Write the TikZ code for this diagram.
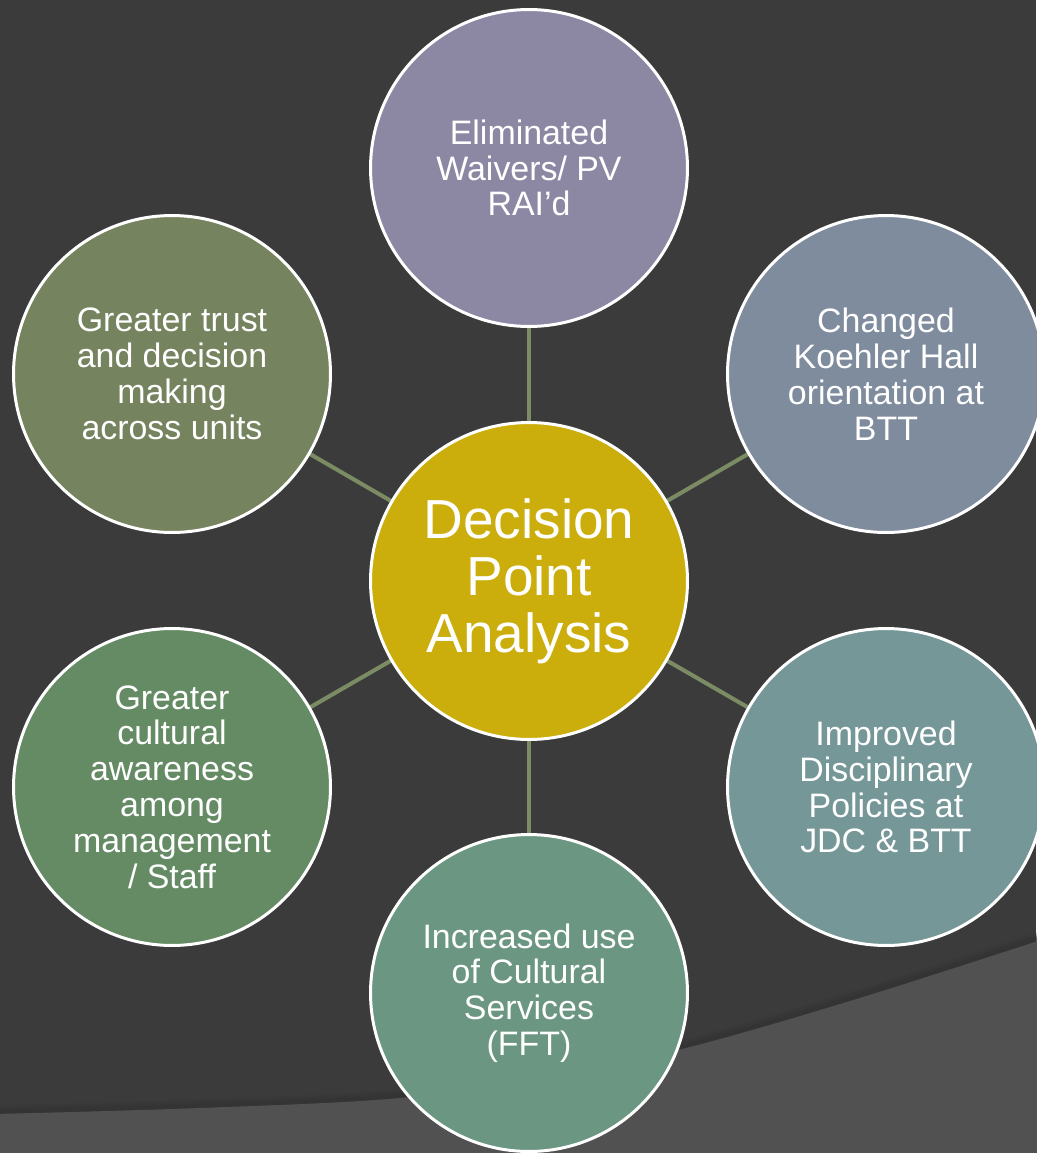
\documentclass[tikz,border=0pt]{standalone}
\usepackage{fontspec}
\setmainfont{Liberation Sans}
\definecolor{bgdark}{HTML}{3B3B3B}
\definecolor{bgswoosh}{HTML}{515151}
\definecolor{shadowc}{HTML}{333333}
\definecolor{linkc}{HTML}{7B8C64}
\definecolor{ccenter}{HTML}{CBAD0C}
\definecolor{ctop}{HTML}{8C88A4}
\definecolor{cur}{HTML}{7F8C9E}
\definecolor{clr}{HTML}{769797}
\definecolor{cbot}{HTML}{6B9682}
\definecolor{cll}{HTML}{658B65}
\definecolor{cul}{HTML}{75835F}
\tikzset{
  bubble/.style={circle, draw=white, line width=1.7pt, minimum size=6.34cm, inner sep=0pt,
    text=white, align=center, font=\fontsize{19.3}{20.4}\selectfont},
  hub/.style={bubble, font=\fontsize{31.3}{32.4}\selectfont},
  link/.style={draw=linkc, line width=2.3pt}
}
\begin{document}
\begin{tikzpicture}[x=0.02cm,y=-0.02cm]
\useasboundingbox (0,0) rectangle (1036,1153);
\fill[bgdark] (0,0) rectangle (1036,1153);
% swoosh shadow
\foreach \d/\o in {14/0.15,10/0.25,6/0.35,3/0.45}{
  \draw[shadowc, line width=\d*0.569pt, opacity=\o]
    plot[smooth, tension=0.6] coordinates {(-5,1112) (200,1106) (400,1096) (550,1074) (682,1047) (850,999) (1041,938)};
}
\fill[bgswoosh] plot[smooth, tension=0.6] coordinates {(-5,1114) (200,1108) (400,1098) (550,1076) (682,1049) (850,1001) (1041,940)}
  -- (1041,1158) -- (-5,1158) -- cycle;

\coordinate (cpos) at (529,581);
% connectors drawn first (behind)
\path (529,581) coordinate (c0);
\path (529,168) coordinate (p1);
\path (886,374) coordinate (p2);
\path (886,787) coordinate (p3);
\path (529,993) coordinate (p4);
\path (172,787) coordinate (p5);
\path (172,374) coordinate (p6);
\foreach \p in {p1,p2,p3,p4,p5,p6}{ \draw[link] (c0) -- (\p); }

\node[hub, fill=ccenter] (center) at (c0) {Decision\\Point\\Analysis};
\node[bubble, fill=ctop] (top) at (p1) {Eliminated\\Waivers/ PV\\RAI’d};
\node[bubble, fill=cur] (ur) at (p2) {Changed\\Koehler Hall\\orientation at\\BTT};
\node[bubble, fill=clr] (lr) at (p3) {Improved\\Disciplinary\\Policies at\\JDC \& BTT};
\node[bubble, fill=cbot] (bot) at (p4) {Increased use\\of Cultural\\Services\\(FFT)};
\node[bubble, fill=cll] (ll) at (p5) {Greater\\cultural\\awareness\\among\\management\\/ Staff};
\node[bubble, fill=cul] (ul) at (p6) {Greater trust\\and decision\\making\\across units};
\end{tikzpicture}
\end{document}
